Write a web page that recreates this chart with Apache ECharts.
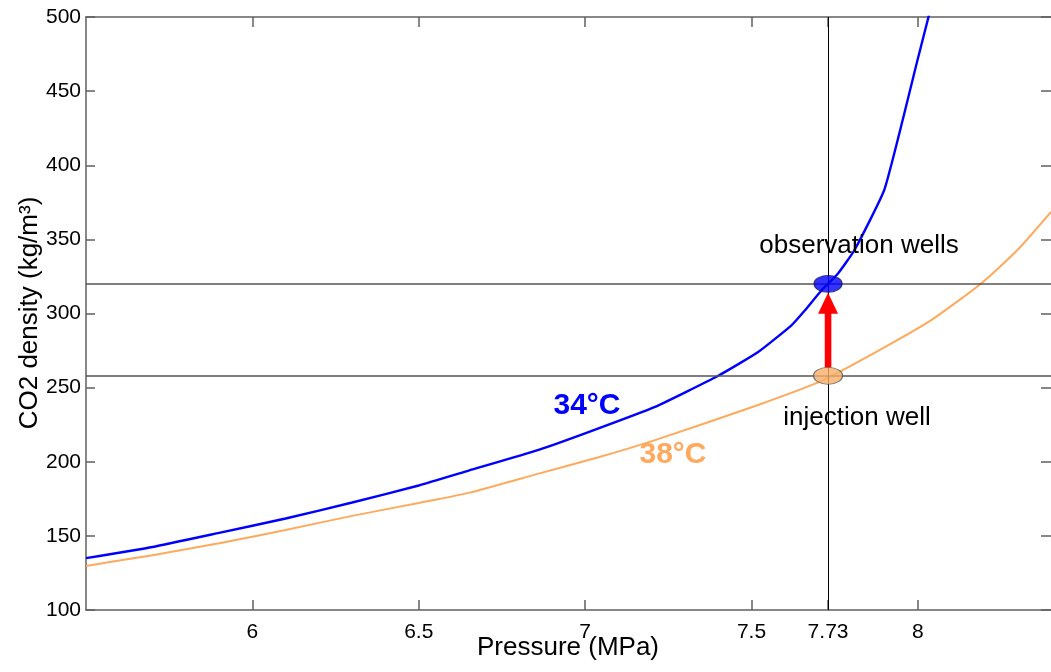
<!DOCTYPE html>
<html>
<head>
<meta charset="utf-8">
<title>CO2 density vs pressure</title>
<script src="https://cdn.jsdelivr.net/npm/echarts@6/dist/echarts.min.js"></script>
<style>
html, body { margin: 0; padding: 0; background: #fff; }
#chart { width: 1051px; height: 672px; }
</style>
</head>
<body>
<div id="chart"></div>
<script>
// 34°C isotherm (MPa / kg/m3)
var p34 = [5.5, 5.7, 5.9, 6.1, 6.3, 6.5, 6.65, 6.86, 7.01, 7.21, 7.4, 7.52, 7.62, 7.66, 7.71, 7.76, 7.81, 7.9, 8.0, 8.1];
var rho34 = [135, 142.5, 152, 161.7, 172.5, 184, 194, 208, 220, 237, 258, 274, 292, 302, 315.5, 327, 343, 384, 472, 560];

// 38°C isotherm
var p38 = [5.5, 5.7, 5.9, 6.1, 6.3, 6.5, 6.65, 6.86, 7.04, 7.21, 7.52, 7.71, 7.89, 8.04, 8.19, 8.3, 8.4];
var rho38 = [129.7, 137, 145, 154, 163.5, 172.2, 179, 192, 203, 214.6, 238.3, 254.5, 276, 295.5, 320.3, 343, 368.5];

// wells
var wellP = 7.73;
var rhoInjection = 258;
var rhoObservation = 320;

var pTicks = [6, 6.5, 7, 7.5, 7.73, 8];

var FONT = '"Liberation Sans", Arial, Helvetica, sans-serif';
var AXIS_COLOR = '#606060';

function zip(xs, ys) {
    var out = [];
    for (var i = 0; i < xs.length; i++) out.push([xs[i], ys[i]]);
    return out;
}

var chart = echarts.init(document.getElementById('chart'));

var option = {
    animation: false,
    backgroundColor: '#fff',
    textStyle: { fontFamily: FONT },
    grid: { left: 86, right: 0, top: 17, bottom: 62, outerBoundsMode: 'none' },
    xAxis: [
        {
            type: 'value', min: 5.5, max: 8.4, position: 'bottom',
            axisLine: { show: true, onZero: false, lineStyle: { color: AXIS_COLOR, width: 1.5 } },
            axisTick: { show: true, inside: true, length: 10, customValues: pTicks, lineStyle: { color: AXIS_COLOR, width: 1.5 } },
            axisLabel: { customValues: pTicks, margin: 12, color: '#000', fontSize: 21, fontFamily: FONT },
            splitLine: { show: false }
        },
        {
            type: 'value', min: 5.5, max: 8.4, position: 'top',
            axisLine: { show: true, onZero: false, lineStyle: { color: AXIS_COLOR, width: 1.5 } },
            axisTick: { show: true, inside: true, length: 10, customValues: pTicks, lineStyle: { color: AXIS_COLOR, width: 1.5 } },
            axisLabel: { show: false },
            splitLine: { show: false }
        }
    ],
    yAxis: [
        {
            type: 'value', min: 100, max: 500, interval: 50, position: 'left',
            axisLine: { show: true, onZero: false, lineStyle: { color: AXIS_COLOR, width: 1.5 } },
            axisTick: { show: true, inside: true, length: 9, lineStyle: { color: AXIS_COLOR, width: 1.5 } },
            axisLabel: { margin: 5, color: '#000', fontSize: 21, fontFamily: FONT },
            splitLine: { show: false }
        },
        {
            type: 'value', min: 100, max: 500, interval: 50, position: 'right',
            axisLine: { show: false },
            axisTick: { show: true, inside: true, length: 10, lineStyle: { color: AXIS_COLOR, width: 1.5 } },
            axisLabel: { show: false },
            splitLine: { show: false }
        }
    ],
    series: [
        {
            // reference lines through the two wells
            name: 'ref', type: 'line', data: [], silent: true, z: 1,
            markLine: {
                silent: true, symbol: 'none', label: { show: false },
                data: [
                    { yAxis: rhoObservation, lineStyle: { color: '#555', width: 1.5, type: 'solid' } },
                    { yAxis: rhoInjection, lineStyle: { color: '#555', width: 1.5, type: 'solid' } },
                    { xAxis: wellP, lineStyle: { color: '#000', width: 1, type: 'solid' } }
                ]
            }
        },
        {
            name: '38°C', type: 'line', data: zip(p38, rho38),
            showSymbol: false, symbol: 'none', z: 3,
            smooth: 0.2,
            lineStyle: { color: '#FFA95C', width: 2 }
        },
        {
            name: '34°C', type: 'line', data: zip(p34, rho34),
            showSymbol: false, symbol: 'none', z: 4,
            smooth: 0.15,
            lineStyle: { color: '#0000FF', width: 2.4 }
        },
        {
            // red arrow from injection well to observation wells
            name: 'arrow', type: 'custom', z: 5, silent: true,
            data: [[wellP, rhoInjection, rhoObservation]],
            renderItem: function (params, api) {
                var from = api.coord([api.value(0), api.value(1)]);
                var to = api.coord([api.value(0), api.value(2)]);
                var x = from[0];
                var y0 = from[1] - 8;
                var y1 = to[1] + 9;
                var head = 21, half = 10, shaft = 3.3;
                return {
                    type: 'polygon',
                    shape: {
                        points: [
                            [x - shaft, y0], [x - shaft, y1 + head], [x - half, y1 + head],
                            [x, y1], [x + half, y1 + head], [x + shaft, y1 + head], [x + shaft, y0]
                        ]
                    },
                    style: { fill: '#FF0000' }
                };
            }
        },
        {
            name: 'wells', type: 'scatter', z: 6, silent: true,
            data: [
                { value: [wellP, rhoObservation], symbolSize: [28, 17], itemStyle: { color: '#0000FF', borderColor: '#1a1a4a', borderWidth: 1 } },
                { value: [wellP, rhoInjection], symbolSize: [29, 17], itemStyle: { color: '#F8AE68', borderColor: '#555', borderWidth: 1 } }
            ],
            symbol: 'circle'
        }
    ],
    graphic: [
        { type: 'text', x: 568, y: 648, style: { text: 'Pressure (MPa)', fontSize: 26, fontFamily: FONT, fill: '#000', align: 'center', verticalAlign: 'middle' } },
        { type: 'text', x: 30, y: 313, rotation: Math.PI / 2, style: { text: 'CO2 density (kg/m³)', fontSize: 26, fontFamily: FONT, fill: '#000', align: 'center', verticalAlign: 'middle' } },
        { type: 'text', x: 859, y: 246, z: 10, style: { text: 'observation wells', fontSize: 26, fontFamily: FONT, fill: '#000', align: 'center', verticalAlign: 'middle' } },
        { type: 'text', x: 857, y: 418, z: 10, style: { text: 'injection well', fontSize: 26, fontFamily: FONT, fill: '#000', align: 'center', verticalAlign: 'middle' } },
        { type: 'text', x: 587, y: 406, z: 10, style: { text: '34°C', fontSize: 30, fontWeight: 'bold', fontFamily: FONT, fill: '#0000FF', align: 'center', verticalAlign: 'middle' } },
        { type: 'text', x: 673, y: 455, z: 10, style: { text: '38°C', fontSize: 30, fontWeight: 'bold', fontFamily: FONT, fill: '#FFA95C', align: 'center', verticalAlign: 'middle' } }
    ]
};

chart.setOption(option);
</script>
</body>
</html>
